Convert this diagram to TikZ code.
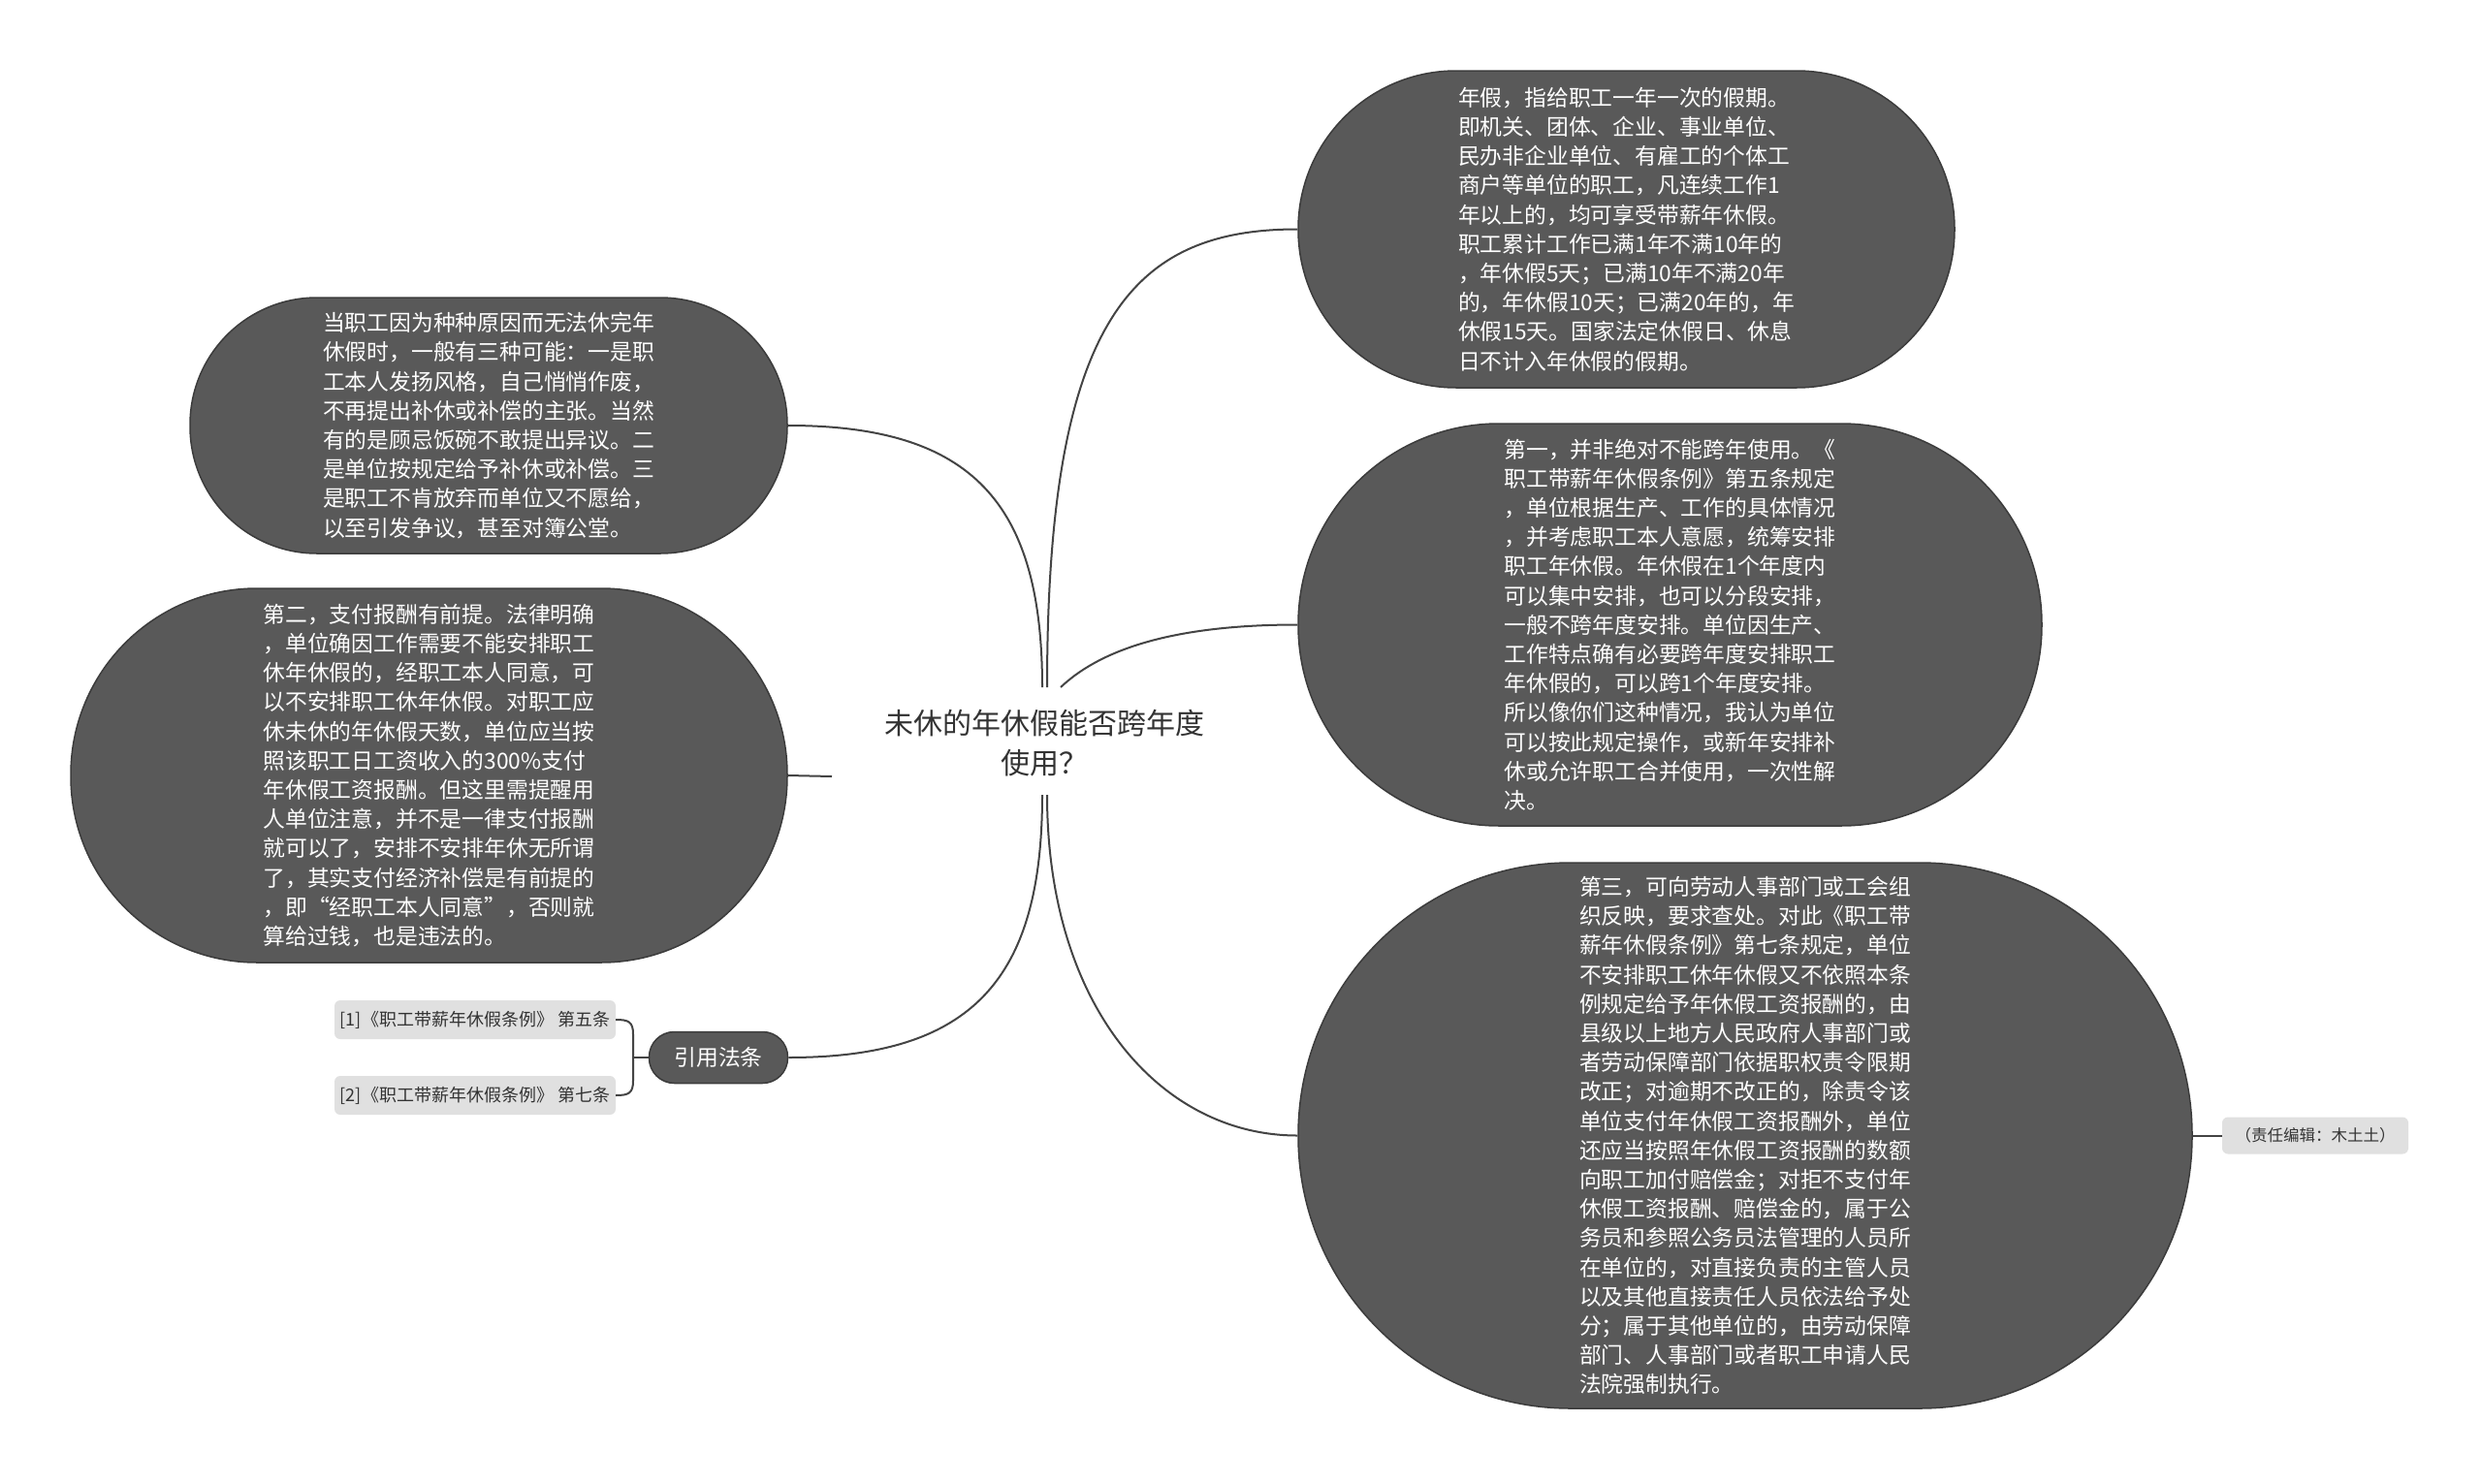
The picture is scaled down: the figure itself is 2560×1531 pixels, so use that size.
\documentclass[tikz,border=0pt]{standalone}
\usepackage{fontspec}
\setmainfont{Noto Sans CJK SC}
\definecolor{nodefill}{HTML}{595959}
\definecolor{nodeborder}{HTML}{3C3C3C}
\definecolor{linkc}{HTML}{444444}
\definecolor{refc}{HTML}{E0E0E0}
\definecolor{textc}{HTML}{333333}
\tikzset{
  bubble/.style={fill=nodefill, draw=nodeborder, line width=1.5, text=white, align=left,
    font=\fontsize{22.8}{30.2}\selectfont, inner sep=0},
  link/.style={draw=linkc, line width=2},
  refbox/.style={fill=refc, rounded corners=6, text=textc, inner sep=0,
    font=\fontsize{18}{22}\selectfont},
}
\begin{document}
\begin{tikzpicture}[x=1pt,y=-1pt]
\useasboundingbox (0,0) rectangle (2560,1531);
\fill[white] (0,0) rectangle (2560,1531);

% centre topic
\node[font=\fontsize{30}{41}\selectfont, text=textc, align=center, inner sep=0] (C) at (1077,767)
  {未休的年休假能否跨年度\\使用？};
\coordinate (CtL) at (1075,709);
\coordinate (CtR) at (1080,709);
\coordinate (CtM) at (1094,709);
\coordinate (CbL) at (1075,820);
\coordinate (CbR) at (1080,820);

% right side
\node[bubble, minimum width=677, minimum height=327, rounded corners=163] (TR) at (1677.5,236.5)
  {年假，指给职工一年一次的假期。\\
   即机关、团体、企业、事业单位、\\
   民办非企业单位、有雇工的个体工\\
   商户等单位的职工，凡连续工作1\\
   年以上的，均可享受带薪年休假。\\
   职工累计工作已满1年不满10年的\\
   ，年休假5天；已满10年不满20年\\
   的，年休假10天；已满20年的，年\\
   休假15天。国家法定休假日、休息\\
   日不计入年休假的假期。};

\node[bubble, minimum width=767, minimum height=415, rounded corners=207] (MR) at (1722.5,644.5)
  {第一，并非绝对不能跨年使用。《\\
   职工带薪年休假条例》第五条规定\\
   ，单位根据生产、工作的具体情况\\
   ，并考虑职工本人意愿，统筹安排\\
   职工年休假。年休假在1个年度内\\
   可以集中安排，也可以分段安排，\\
   一般不跨年度安排。单位因生产、\\
   工作特点确有必要跨年度安排职工\\
   年休假的，可以跨1个年度安排。\\
   所以像你们这种情况，我认为单位\\
   可以按此规定操作，或新年安排补\\
   休或允许职工合并使用，一次性解\\
   决。};

\node[bubble, minimum width=922, minimum height=563, rounded corners=281] (BR) at (1800,1171.5)
  {第三，可向劳动人事部门或工会组\\
   织反映，要求查处。对此《职工带\\
   薪年休假条例》第七条规定，单位\\
   不安排职工休年休假又不依照本条\\
   例规定给予年休假工资报酬的，由\\
   县级以上地方人民政府人事部门或\\
   者劳动保障部门依据职权责令限期\\
   改正；对逾期不改正的，除责令该\\
   单位支付年休假工资报酬外，单位\\
   还应当按照年休假工资报酬的数额\\
   向职工加付赔偿金；对拒不支付年\\
   休假工资报酬、赔偿金的，属于公\\
   务员和参照公务员法管理的人员所\\
   在单位的，对直接负责的主管人员\\
   以及其他直接责任人员依法给予处\\
   分；属于其他单位的，由劳动保障\\
   部门、人事部门或者职工申请人民\\
   法院强制执行。};

\node[refbox, minimum width=192, minimum height=38, font=\fontsize{16.5}{20}\selectfont] (ED) at (2388,1171.5)
  {（责任编辑：木土土）};

% left side
\node[bubble, minimum width=616, minimum height=264, rounded corners=131] (TL) at (504,439)
  {当职工因为种种原因而无法休完年\\
   休假时，一般有三种可能：一是职\\
   工本人发扬风格，自己悄悄作废，\\
   不再提出补休或补偿的主张。当然\\
   有的是顾忌饭碗不敢提出异议。二\\
   是单位按规定给予补休或补偿。三\\
   是职工不肯放弃而单位又不愿给，\\
   以至引发争议，甚至对簿公堂。};

\node[bubble, minimum width=739, minimum height=386, rounded corners=192] (LM) at (442.5,800)
  {第二，支付报酬有前提。法律明确\\
   ，单位确因工作需要不能安排职工\\
   休年休假的，经职工本人同意，可\\
   以不安排职工休年休假。对职工应\\
   休未休的年休假天数，单位应当按\\
   照该职工日工资收入的300\%支付\\
   年休假工资报酬。但这里需提醒用\\
   人单位注意，并不是一律支付报酬\\
   就可以了，安排不安排年休无所谓\\
   了，其实支付经济补偿是有前提的\\
   ，即“经职工本人同意”，否则就\\
   算给过钱，也是违法的。};
\coordinate (stub) at (858,801);

\node[bubble, align=center, minimum width=143, minimum height=53, rounded corners=26] (REF) at (741,1091)
  {引用法条};
\node[refbox, minimum width=290, minimum height=40] (R1) at (490,1052)
  {[1]《职工带薪年休假条例》 第五条};
\node[refbox, minimum width=290, minimum height=40] (R2) at (490,1130)
  {[2]《职工带薪年休假条例》 第七条};
\coordinate (brk) at (653,1091);
\coordinate (b1) at (653,1067);
\coordinate (b2) at (653,1115);

% connectors
\draw[link] (CtR) .. controls +(0,-380) and +(-170,0) .. (TR.west);
\draw[link] (CtM) .. controls +(36,-34) and +(-140,0) .. (MR.west);
\draw[link] (CbR) .. controls +(0,220) and +(-140,0) .. (BR.west);
\draw[link] (CtL) .. controls +(0,-190) and +(190,0) .. (TL.east);
\draw[link] (CbL) .. controls +(0,190) and +(190,0) .. (REF.east);
\draw[link] (LM.east) -- (stub);
\draw[link] (BR.east) -- (ED.west);
\draw[link] (REF.west) -- (brk);
\draw[link] (R1.east) .. controls +(13,0) and +(0,-13) .. (b1) -- (b2) .. controls +(0,13) and +(13,0) .. (R2.east);
\end{tikzpicture}
\end{document}
